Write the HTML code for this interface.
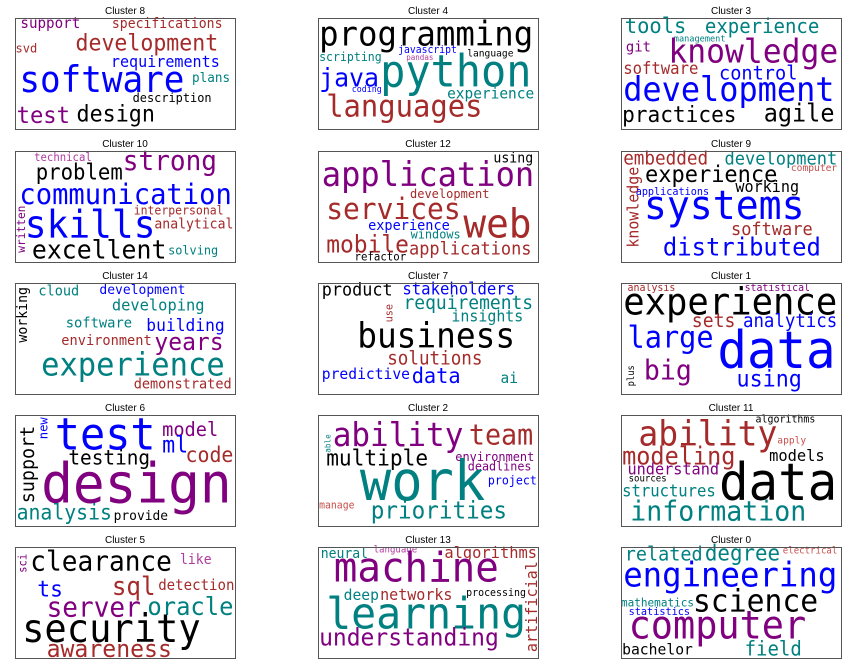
<!DOCTYPE html>
<html><head><meta charset="utf-8"><style>
html,body{margin:0;padding:0;background:#fff;}
svg{display:block;}
</style></head><body>
<svg id="chart" width="852" height="666" viewBox="0 0 852 666" xmlns="http://www.w3.org/2000/svg"></svg>
<script>
// word: [text, x0, x1, baseline (or y0,y1 for rotated), color, rotated]
const clusterTitles = ["Cluster 8","Cluster 4","Cluster 3","Cluster 10","Cluster 12","Cluster 9","Cluster 14","Cluster 7","Cluster 1","Cluster 6","Cluster 2","Cluster 11","Cluster 5","Cluster 13","Cluster 0"];
const P='#800080',B='#a52a2a',T='#008080',U='#0000ff',K='#000000',O='#b03aa0',S='#c8504d';
const words8=[["support",37,147,88,P],["specifications",205,408,88,B],["development",138,400,155,B],["svd",28,68,160,B],["requirements",203,403,203,U],["software",35,338,278,U],["plans",352,422,248,T],["description",243,388,308,K],["test",30,128,370,P],["design",140,284,366,K]];
const words4=[["programming",585,978,140,K],["javascript",730,838,162,U],["language",857,942,172,K],["scripting",585,700,185,T],["pandas",745,795,183,O],["java",585,695,262,U],["python",697,975,262,T],["coding",645,700,278,U],["experience",820,980,297,T],["languages",598,885,350,B]];
const words3=[["tools",1145,1258,103,T],["experience",1292,1502,103,T],["management",1235,1330,128,T],["git",1147,1193,158,P],["knowledge",1225,1537,190,P],["software",1142,1280,225,B],["control",1318,1462,240,U],["development",1142,1530,305,U],["practices",1140,1350,367,K],["agile",1400,1530,365,K]];
const words10=[["technical",62,168,78,O],["strong",225,398,105,P],["problem",65,225,132,K],["communication",35,425,205,U],["interpersonal",245,410,237,B],["written",38,210,350,P,1],["skills",45,285,305,U],["analytical",283,428,278,B],["excellent",58,305,368,K],["solving",308,400,355,T]];
const words12=[["using",905,978,82,K],["application",590,980,152,P],["development",752,898,188,B],["services",598,845,250,B],["web",850,975,305,B],["experience",675,825,283,U],["windows",753,845,308,T],["mobile",598,750,350,B],["applications",750,975,355,B],["refactor",650,745,373,K]];
const words9=[["embedded",1142,1298,88,B],["development",1328,1535,88,T],["computer",1450,1535,108,S],["experience",1182,1425,140,K],["knowledge",1160,95,335,B,1],["applications",1165,1300,178,U],["working",1348,1465,170,K],["systems",1180,1475,250,U],["software",1340,1490,297,B],["distributed",1215,1505,358,U]];
const words14=[["working",42,60,225,K,1],["cloud",70,145,85,T],["development",182,340,80,U],["developing",205,375,130,T],["software",120,242,180,T],["building",268,412,190,U],["environment",112,278,232,B],["years",283,410,247,P],["experience",75,412,322,T],["demonstrated",245,425,362,B]];
const words7=[["product",590,720,85,K],["stakeholders",738,945,82,U],["use",713,110,165,B,1],["requirements",740,978,125,T],["insights",828,960,163,T],["business",655,945,240,K],["solutions",710,885,290,B],["predictive",590,752,333,U],["data",755,845,345,U],["ai",918,950,345,T]];
const words1=[["analysis",1150,1238,72,B],["statistical",1365,1485,72,P],["experience",1142,1535,142,K],["sets",1268,1348,178,B],["analytics",1362,1535,178,U],["large",1150,1308,240,U],["data",1315,1532,300,U],["plus",1157,292,355,K,1],["big",1180,1268,335,P],["using",1350,1470,355,U]];
const words6=[["support",50,80,310,K,1],["new",80,55,120,U,1],["test",100,285,150,U],["model",297,400,110,P],["ml",297,345,160,U],["code",340,428,188,B],["testing",125,275,195,K],["design",75,425,308,P],["analysis",30,205,358,T],["provide",208,308,360,K]];
const words2=[["able",600,105,160,T,1],["ability",610,850,140,P],["team",860,978,135,B],["multiple",598,785,198,K],["environment",835,980,185,P],["deadlines",858,975,213,P],["work",660,890,300,T],["project",895,985,255,U],["manage",585,650,325,S],["priorities",680,930,355,T]];
const words11=[["algorithms",1385,1495,70,K],["ability",1170,1425,138,B],["apply",1425,1478,133,S],["modeling",1140,1348,195,B],["models",1410,1512,185,K],["understand",1150,1318,225,P],["sources",1152,1222,245,K],["data",1318,1535,300,K],["structures",1140,1312,290,T],["information",1155,1478,362,T]];
const words5=[["sci",42,68,125,P,1],["clearance",55,315,118,K],["like",330,388,98,O],["ts",68,115,195,U],["sql",205,285,190,B],["detection",290,430,175,B],["server",85,258,255,P],["oracle",270,428,250,T],["security",40,368,330,K],["awareness",85,315,375,B]];
const words13=[["neural",588,675,80,T],["language",685,765,65,O],["algorithms",815,985,80,B],["machine",612,915,150,P],["artificial",975,90,360,B,1],["deep",630,695,205,T],["networks",697,830,205,B],["processing",855,965,193,K],["learning",598,965,290,T],["understanding",585,915,340,P]];
const words0=[["related",1145,1288,88,T],["degree",1292,1430,88,T],["electrical",1435,1535,68,S],["engineering",1142,1535,165,U],["mathematics",1138,1272,225,T],["science",1270,1500,240,K],["statistics",1152,1265,250,U],["computer",1152,1478,320,P],["bachelor",1140,1270,368,K],["field",1365,1470,370,T]];
const panelWords=[words8,words4,words3,words10,words12,words9,words14,words7,words1,words6,words2,words11,words5,words13,words0];

const NS='http://www.w3.org/2000/svg';
const svg=document.getElementById('chart');
const colX=[15,318,621], rowY=[18,151,283,415,547], zbx=[27,583,1138];
const BW=220,BH=111, SX=1.836, SY=2.97;
function mk(tag,attrs,parent){const e=document.createElementNS(NS,tag);for(const k in attrs)e.setAttribute(k,attrs[k]);parent.appendChild(e);return e;}
panelWords.forEach((ws,i)=>{
  const r=Math.floor(i/3),c=i%3;
  const bx=colX[c],by=rowY[r],zx0=zbx[c],zy0=(r===0?58:48);
  const g=mk('g',{},svg);
  
  
  const t=mk('text',{x:bx+BW/2,y:by-4,'text-anchor':'middle','font-family':'Liberation Sans, sans-serif','font-size':'10',fill:'#000'},g);
  t.textContent=clusterTitles[i];
  
  
  ws.forEach(w=>{
    const [txt,a,b,cc,col,rot]=w;
    const e=document.createElementNS(NS,'text');
    e.setAttribute('font-family','DejaVu Sans Mono, Liberation Mono, monospace');
    e.setAttribute('fill',col);
    e.setAttribute('lengthAdjust','spacingAndGlyphs');
    if(!rot){
      const x=bx+(a-zx0)/SX, len=(b-a)/SX, y=by+(cc-zy0)/SY;
      const fs=len/(txt.length*0.6)*1.05;
      e.setAttribute('x',x.toFixed(1));e.setAttribute('y',y.toFixed(1));
      e.setAttribute('font-size',fs.toFixed(1));e.setAttribute('textLength',len.toFixed(1));
    } else {
      const cx=bx+(a-zx0)/SX, y0=by+(b-zy0)/SY, y1=by+(cc-zy0)/SY, len=y1-y0;
      const fs=len/(txt.length*0.6)*1.05;
      e.setAttribute('x','0');e.setAttribute('y','0');
      e.setAttribute('dominant-baseline','central');
      e.setAttribute('font-size',fs.toFixed(1));e.setAttribute('textLength',len.toFixed(1));
      e.setAttribute('transform','translate('+cx.toFixed(1)+','+y1.toFixed(1)+') rotate(-90)');
    }
    e.textContent=txt;
    
    
    g.appendChild(e);
  });
  const rect=mk('rect',{x:bx+0.5,y:by+0.5,width:BW,height:BH,fill:'none',stroke:'#555','stroke-width':'1'},g);
  
  
});
</script>
</body></html>
